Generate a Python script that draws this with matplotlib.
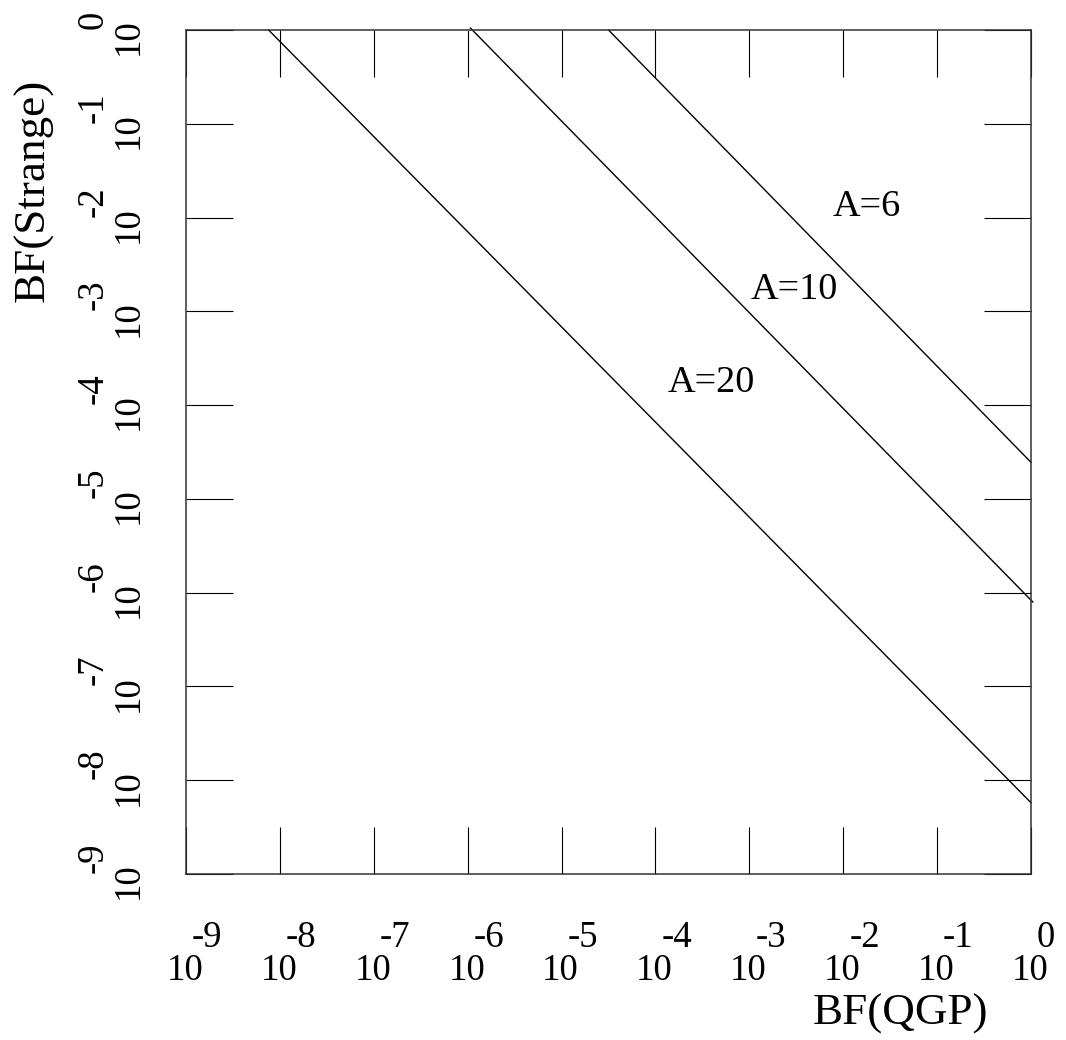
import matplotlib
matplotlib.use("Agg")
import matplotlib.pyplot as plt
import numpy as np
from matplotlib.transforms import offset_copy

plt.rcParams['font.family'] = ['Liberation Serif', 'DejaVu Serif']

# decades shown on both axes
decades = np.arange(-9, 1)

# straight lines in log-log space: (log BF(QGP), log BF(Strange)) end points
curve_names = ['A=6', 'A=10', 'A=20']
qgp_start = [-4.50, -5.97, -8.12]
strange_start = [0.0, 0.02, 0.0]
qgp_end = [0.0, 0.02, 0.0]
strange_end = [-4.61, -6.10, -8.24]

# where the curve names sit (log units)
name_qgp = [-2.11, -2.99, -3.87]
name_strange = [-1.98, -2.87, -3.86]

fig = plt.figure(figsize=(10.66, 10.40), dpi=100)
ax = fig.add_axes([186 / 1066, 166 / 1040, 845 / 1066, 844 / 1040])
ax.set_xscale('log')
ax.set_yscale('log')
ax.set_xlim(1e-9, 1e0)
ax.set_ylim(1e-9, 1e0)

for x0, y0, x1, y1 in zip(qgp_start, strange_start, qgp_end, strange_end):
    ax.plot([10.0 ** x0, 10.0 ** x1], [10.0 ** y0, 10.0 ** y1],
            color='black', lw=1.0, clip_on=False)

for name, xq, ys in zip(curve_names, name_qgp, name_strange):
    ax.text(10.0 ** xq, 10.0 ** ys, name, fontsize=27.5,
            ha='left', va='baseline')

# long inward ticks on all four sides, labels drawn by hand below
ticks = 10.0 ** decades
ax.set_xticks(ticks)
ax.set_yticks(ticks)
ax.minorticks_off()
ax.tick_params(which='major', direction='in', length=34, width=0.8,
               top=True, right=True, labelbottom=False, labelleft=False)
for sp in ax.spines.values():
    sp.set_linewidth(1.1)
    sp.set_color('#333333')

tick_fs = 26.5
xt = ax.get_xaxis_transform()
yt = ax.get_yaxis_transform()
for d in decades:
    v = 10.0 ** d
    # x axis: "10" with the exponent raised to its upper right
    ax.text(v, 0, '10', fontsize=tick_fs, ha='center', va='baseline',
            transform=offset_copy(xt, fig, x=-1, y=-106, units='dots'))
    ax.text(v, 0, f'{d}', fontsize=tick_fs, ha='left', va='baseline',
            transform=offset_copy(xt, fig, x=6, y=-73, units='dots'))
    # y axis: same, turned on its side
    ax.text(0, v, '10', fontsize=tick_fs, rotation=90, rotation_mode='anchor',
            ha='center', va='baseline',
            transform=offset_copy(yt, fig, x=-48, y=-7, units='dots'))
    ax.text(0, v, f'{d}', fontsize=tick_fs, rotation=90, rotation_mode='anchor',
            ha='left', va='baseline',
            transform=offset_copy(yt, fig, x=-83, y=1, units='dots'))

fig.text(900 / 1066, 15 / 1040, 'BF(QGP)', fontsize=32.5,
         ha='center', va='baseline')
fig.text(44 / 1066, 850 / 1040, 'BF(Strange)', fontsize=32.5, rotation=90,
         rotation_mode='anchor', ha='center', va='baseline')

fig.savefig('out.png', dpi=100)
